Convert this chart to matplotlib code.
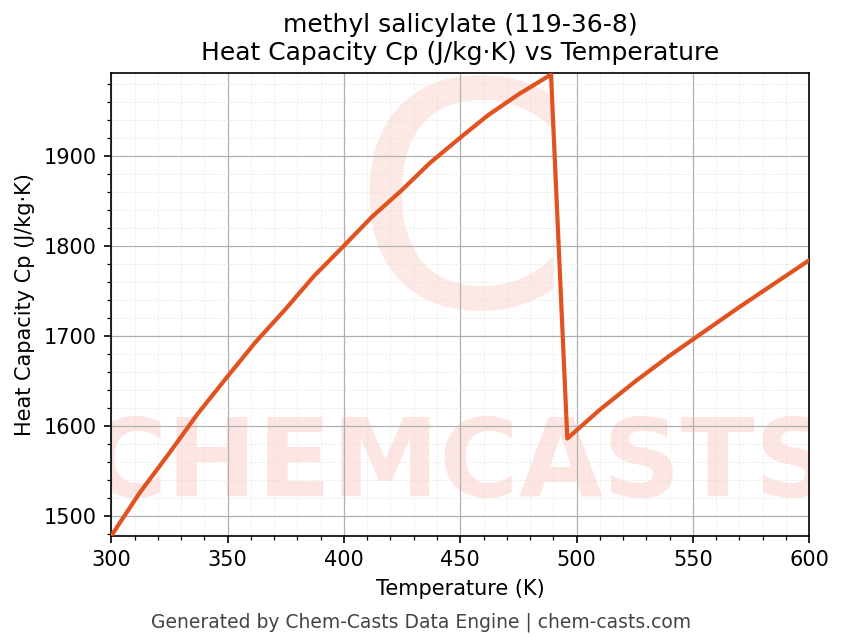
import matplotlib
matplotlib.use('Agg')
import matplotlib.pyplot as plt
from matplotlib.ticker import AutoMinorLocator

# Data
temp_liq = [300, 312, 325, 337, 350, 362, 375, 387, 400, 412, 425, 437, 450, 462, 475, 489]
cp_liq = [1478, 1525, 1570, 1613, 1655, 1693, 1730, 1766, 1800, 1832, 1862, 1892, 1920, 1945, 1968, 1990]
temp_gas = [496, 510, 525, 540, 555, 570, 585, 600]
cp_gas = [1586, 1618, 1649, 1678, 1705, 1732, 1758, 1784]

fig, ax = plt.subplots(figsize=(843 / 150, 644 / 150), dpi=150)
fig.subplots_adjust(left=0.132, right=0.96, top=0.887, bottom=0.168)

# watermark
ax.text(0.5, 0.15, 'CHEMCASTS', transform=ax.transAxes, ha='center', va='center',
        fontsize=52, fontweight='bold', color='#fbd5cf', alpha=0.6, zorder=0, clip_on=True)
ax.text(0.5, 0.68, 'C', transform=ax.transAxes, ha='center', va='center',
        fontsize=150, color='#fbd5cf', alpha=0.5, zorder=0, clip_on=True)

ax.plot(temp_liq + temp_gas, cp_liq + cp_gas, color='#e0521f', lw=2, zorder=3)

ax.set_xlim(300, 600)
ax.set_ylim(1478, 1992)
ax.set_xticks([300, 350, 400, 450, 500, 550, 600])
ax.set_yticks([1500, 1600, 1700, 1800, 1900])
ax.xaxis.set_minor_locator(AutoMinorLocator(5))
ax.yaxis.set_minor_locator(AutoMinorLocator(5))
ax.grid(True, which='major', color='#b0b0b0', lw=0.6)
ax.grid(True, which='minor', color='#dddddd', lw=0.4, ls=':')
ax.set_axisbelow(True)

ax.set_xlabel('Temperature (K)')
ax.set_ylabel('Heat Capacity Cp (J/kg·K)')
ax.set_title('methyl salicylate (119-36-8)\nHeat Capacity Cp (J/kg·K) vs Temperature', fontsize=12)
fig.text(0.5, 0.025, 'Generated by Chem-Casts Data Engine | chem-casts.com',
         ha='center', fontsize=9, color='#444444')

fig.savefig('out.png', dpi=150)
